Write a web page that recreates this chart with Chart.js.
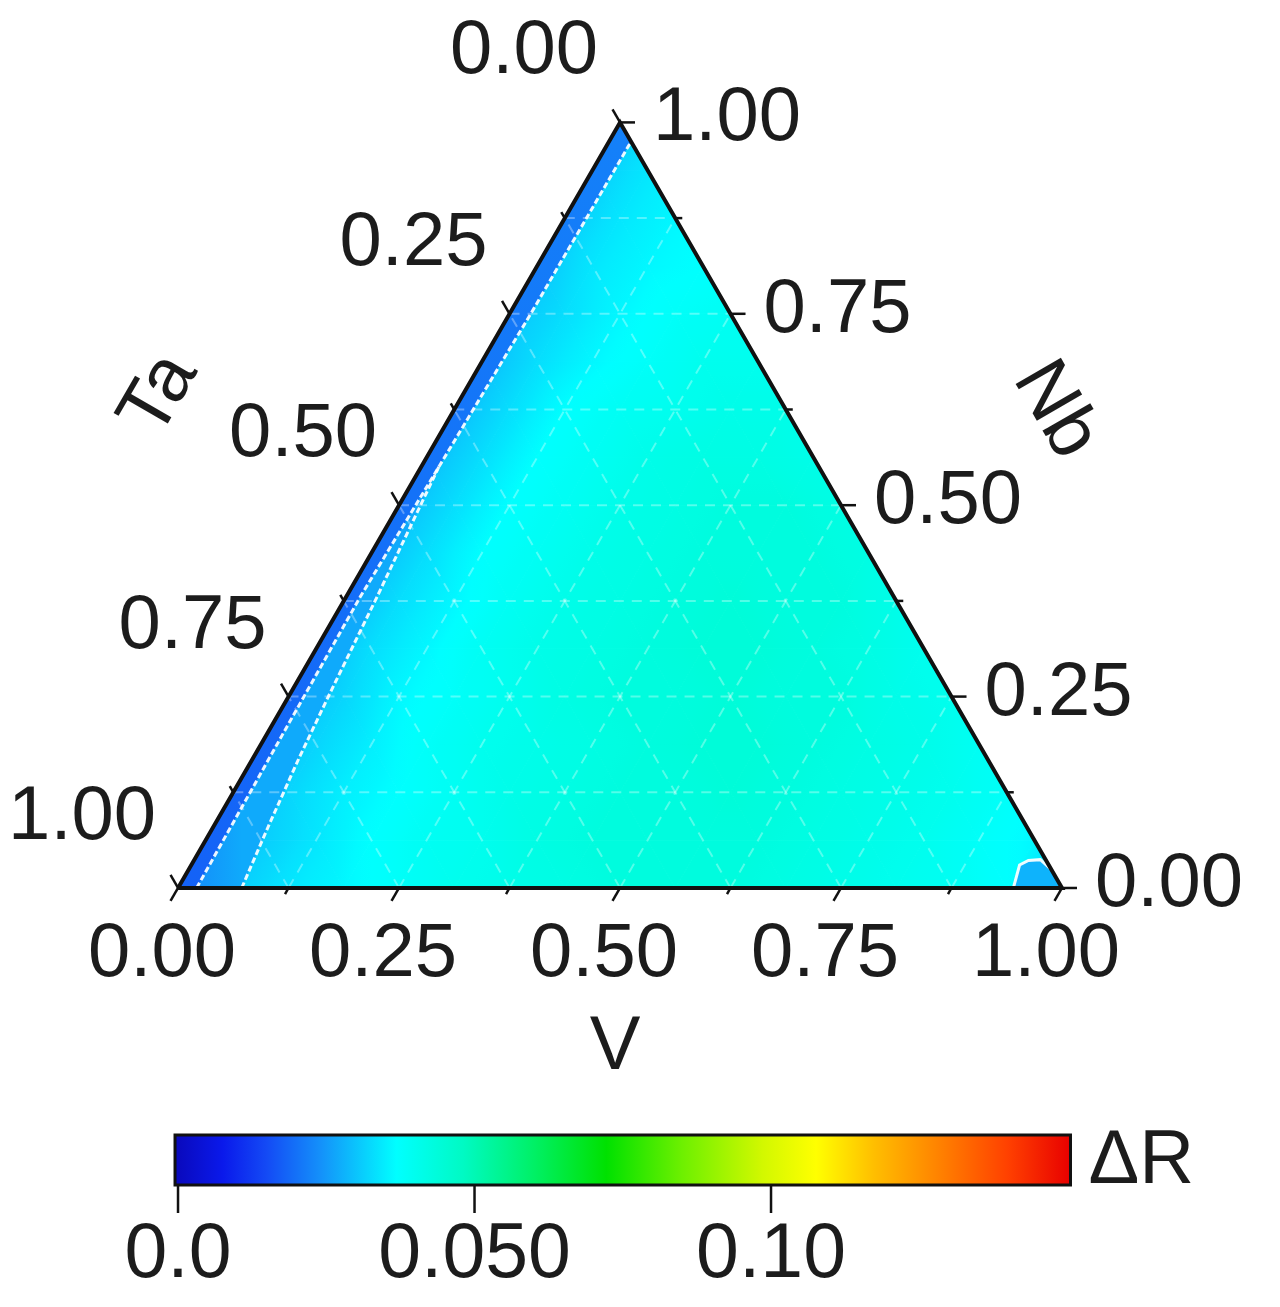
<!DOCTYPE html>
<html>
<head>
<meta charset="utf-8">
<script src="https://cdn.jsdelivr.net/npm/chart.js@4.4.1/dist/chart.umd.min.js"></script>
<style>
  html, body { margin: 0; padding: 0; background: #fff; }
  #wrap { width: 1280px; height: 1307px; position: relative; }
</style>
</head>
<body>
<div id="wrap"><canvas id="chart"></canvas></div>
<script>
// axis ticks (same for all three ternary axes)
const majorTicks = [0, 0.25, 0.5, 0.75, 1];
const minorTicks = [0.125, 0.375, 0.625, 0.875];
const tickLabels = ["0.00", "0.25", "0.50", "0.75", "1.00"];
const gridSteps = [0.125, 0.25, 0.375, 0.5, 0.625, 0.75, 0.875];

const bottomTitle = "V";
const leftTitle = "Ta";
const rightTitle = "Nb";

const colorbarTicks = [0, 0.05, 0.1];
const colorbarLabels = ["0.0", "0.050", "0.10"];
const colorbarTitle = "\u0394R";
const colorbarMax = 0.1505;

// ΔR read on a 1/16 ternary lattice: row i is Nb = i/16, entry j is V = j/16
const deltaR = [
  [0.029, 0.031, 0.034, 0.036, 0.038, 0.040, 0.041, 0.042, 0.043, 0.043, 0.043, 0.042, 0.041, 0.040, 0.039, 0.037, 0.031],
  [0.029, 0.031, 0.034, 0.037, 0.039, 0.040, 0.042, 0.043, 0.043, 0.043, 0.043, 0.042, 0.041, 0.040, 0.038, 0.036],
  [0.029, 0.032, 0.035, 0.037, 0.039, 0.041, 0.042, 0.043, 0.043, 0.044, 0.043, 0.042, 0.041, 0.040, 0.038],
  [0.029, 0.032, 0.035, 0.038, 0.040, 0.041, 0.042, 0.043, 0.044, 0.044, 0.043, 0.042, 0.041, 0.039],
  [0.029, 0.032, 0.036, 0.038, 0.040, 0.042, 0.043, 0.043, 0.044, 0.043, 0.043, 0.041, 0.040],
  [0.029, 0.033, 0.036, 0.039, 0.041, 0.042, 0.043, 0.044, 0.044, 0.043, 0.042, 0.040],
  [0.029, 0.033, 0.036, 0.039, 0.041, 0.042, 0.043, 0.044, 0.043, 0.043, 0.041],
  [0.029, 0.033, 0.037, 0.039, 0.041, 0.042, 0.043, 0.043, 0.043, 0.042],
  [0.029, 0.033, 0.037, 0.039, 0.041, 0.042, 0.043, 0.043, 0.042],
  [0.029, 0.033, 0.037, 0.039, 0.041, 0.042, 0.042, 0.041],
  [0.029, 0.033, 0.037, 0.039, 0.040, 0.041, 0.041],
  [0.029, 0.033, 0.036, 0.038, 0.040, 0.040],
  [0.030, 0.033, 0.036, 0.038, 0.039],
  [0.030, 0.034, 0.036, 0.037],
  [0.031, 0.034, 0.036],
  [0.031, 0.034],
  [0.031]
];

// contour lines, [V, Nb] pairs
const contourEdge = [[0.021, 0], [0.018, 0.2], [0.016, 0.38], [0.02, 0.55], [0.024, 0.75], [0.025, 0.975]];
const contourInner = [[0.072, 0], [0.062, 0.08], [0.052, 0.17], [0.045, 0.25], [0.035, 0.38], [0.027, 0.47], [0.02, 0.55]];
const contourCorner = [[0.945, 0], [0.937, 0.03], [0.944, 0.036], [0.957, 0.037], [0.976, 0.024]];

// ΔR levels of the bands between the contours
const edgeBandLevels = [0.018, 0.022]; // bottom, top
const innerBandLevel = 0.025;
const cornerLevel = 0.028;

// colour map of the bar (position 0..1, rgb)
const colorStops = [
  [0.0, [10, 10, 190]], [0.05, [10, 25, 235]], [0.1, [20, 75, 245]], [0.16, [20, 145, 250]],
  [0.245, [0, 255, 255]], [0.32, [0, 250, 195]], [0.4, [0, 240, 100]], [0.48, [0, 225, 0]],
  [0.565, [110, 240, 0]], [0.655, [210, 248, 0]], [0.715, [255, 255, 0]], [0.78, [255, 190, 0]],
  [0.855, [255, 128, 0]], [0.93, [255, 64, 0]], [1.0, [232, 0, 0]]
];

const SQ3 = Math.sqrt(3) / 2;
const FONT = '76px "Liberation Sans", Arial, sans-serif';
const TEXT = "#1c1c1c";

function tern(v, nb) {
  return { x: v + nb / 2, y: nb * SQ3 };
}

function colorAt(value) {
  const p = Math.min(1, Math.max(0, value / colorbarMax));
  for (let k = 1; k < colorStops.length; k++) {
    const [p1, c1] = colorStops[k];
    const [p0, c0] = colorStops[k - 1];
    if (p <= p1) {
      const t = (p - p0) / (p1 - p0);
      const c = c0.map((a, i) => Math.round(a + (c1[i] - a) * t));
      return `rgb(${c[0]},${c[1]},${c[2]})`;
    }
  }
  return "rgb(232,0,0)";
}

function polyPath(ctx, pts) {
  ctx.beginPath();
  pts.forEach((p, i) => (i ? ctx.lineTo(p[0], p[1]) : ctx.moveTo(p[0], p[1])));
  ctx.closePath();
}

// fill one lattice triangle, shading linearly between its three node values
function shadeCell(ctx, pts, vals) {
  const [p0, p1, p2] = pts;
  const ax = p1[0] - p0[0], ay = p1[1] - p0[1];
  const bx = p2[0] - p0[0], by = p2[1] - p0[1];
  const d1 = vals[1] - vals[0], d2 = vals[2] - vals[0];
  const det = ax * by - ay * bx;
  const gx = (d1 * by - d2 * ay) / det;
  const gy = (ax * d2 - bx * d1) / det;
  const g2 = gx * gx + gy * gy;
  let style;
  if (g2 < 1e-14) {
    style = colorAt(vals[0]);
  } else {
    const lo = Math.min(...vals), hi = Math.max(...vals);
    const sA = (lo - vals[0]) / g2, sB = (hi - vals[0]) / g2;
    style = ctx.createLinearGradient(p0[0] + gx * sA, p0[1] + gy * sA, p0[0] + gx * sB, p0[1] + gy * sB);
    for (let k = 0; k <= 4; k++) style.addColorStop(k / 4, colorAt(lo + (hi - lo) * k / 4));
  }
  ctx.fillStyle = style;
  ctx.strokeStyle = style;
  polyPath(ctx, pts);
  ctx.fill();
  ctx.stroke();
}

const ternaryPlugin = {
  id: "ternary",
  beforeDatasetsDraw(chart) {
    const { ctx } = chart;
    const { x, y } = chart.scales;
    const px = (v, nb) => {
      const p = tern(v, nb);
      return [x.getPixelForValue(p.x), y.getPixelForValue(p.y)];
    };
    const n = deltaR.length - 1;
    ctx.save();
    ctx.lineWidth = 1;
    for (let i = 0; i < n; i++) {
      for (let j = 0; j < n - i; j++) {
        shadeCell(ctx, [px(j / n, i / n), px((j + 1) / n, i / n), px(j / n, (i + 1) / n)],
          [deltaR[i][j], deltaR[i][j + 1], deltaR[i + 1][j]]);
        if (j < n - i - 1) {
          shadeCell(ctx, [px((j + 1) / n, i / n), px((j + 1) / n, (i + 1) / n), px(j / n, (i + 1) / n)],
            [deltaR[i][j + 1], deltaR[i + 1][j + 1], deltaR[i + 1][j]]);
        }
      }
    }

    // inner band between the two left contours
    const inner = contourInner.concat(contourEdge.filter((p) => p[1] < 0.55).reverse());
    const gi = ctx.createLinearGradient(px(0.072, 0)[0], 0, px(0.02, 0)[0], 0);
    gi.addColorStop(0, colorAt(innerBandLevel + 0.002));
    gi.addColorStop(1, colorAt(innerBandLevel - 0.001));
    ctx.fillStyle = gi;
    polyPath(ctx, inner.map((p) => px(p[0], p[1])));
    ctx.fill();

    // band along the V = 0 edge
    const edge = [[0, 0], [0, 1]].concat(contourEdge.slice().reverse());
    const g = ctx.createLinearGradient(0, px(0, 0)[1], 0, px(0, 1)[1]);
    g.addColorStop(0, colorAt(edgeBandLevels[0]));
    g.addColorStop(1, colorAt(edgeBandLevels[1]));
    ctx.fillStyle = g;
    polyPath(ctx, edge.map((p) => px(p[0], p[1])));
    ctx.fill();

    // small region at the V = 1 corner
    ctx.fillStyle = colorAt(cornerLevel);
    polyPath(ctx, contourCorner.concat([[1, 0]]).map((p) => px(p[0], p[1])));
    ctx.fill();

    // dashed grid
    ctx.strokeStyle = "rgba(255,255,255,0.32)";
    ctx.lineWidth = 2;
    ctx.setLineDash([10, 8]);
    gridSteps.forEach((t) => {
      [[px(0, t), px(1 - t, t)], [px(t, 0), px(t, 1 - t)], [px(1 - t, 0), px(0, 1 - t)]].forEach(([a, b]) => {
        ctx.beginPath();
        ctx.moveTo(a[0], a[1]);
        ctx.lineTo(b[0], b[1]);
        ctx.stroke();
      });
    });
    ctx.restore();
  },
  afterDatasetsDraw(chart) {
    const { ctx } = chart;
    const { x, y, cb } = chart.scales;
    const px = (v, nb) => {
      const p = tern(v, nb);
      return [x.getPixelForValue(p.x), y.getPixelForValue(p.y)];
    };
    ctx.save();
    ctx.strokeStyle = "#111";
    ctx.lineWidth = 2.5;
    const tick = (p, dx, dy, len) => {
      ctx.beginPath();
      ctx.moveTo(p[0], p[1]);
      ctx.lineTo(p[0] + dx * len, p[1] + dy * len);
      ctx.stroke();
    };
    // V ticks point down-left, Nb ticks point right, Ta ticks point up-left
    majorTicks.forEach((t) => {
      tick(px(t, 0), -0.5, SQ3, 15);
      tick(px(1 - t, t), 1, 0, 15);
      tick(px(0, 1 - t), -0.5, -SQ3, 15);
    });
    minorTicks.forEach((t) => {
      tick(px(t, 0), -0.5, SQ3, 7);
      tick(px(1 - t, t), 1, 0, 7);
      tick(px(0, 1 - t), -0.5, -SQ3, 7);
    });

    ctx.fillStyle = TEXT;
    ctx.font = FONT;
    ctx.textBaseline = "middle";
    majorTicks.forEach((t, k) => {
      const b = px(t, 0);
      ctx.textAlign = "center";
      ctx.fillText(tickLabels[k], b[0] - 16, b[1] + 67);
      const r = px(1 - t, t);
      ctx.textAlign = "left";
      ctx.fillText(tickLabels[k], r[0] + 33, r[1] - 3);
      const l = px(0, 1 - t);
      ctx.textAlign = "right";
      ctx.fillText(tickLabels[k], l[0] - 22, l[1] - 70);
    });

    // axis titles
    const mb = px(0.5, 0);
    ctx.textAlign = "center";
    ctx.fillText(bottomTitle, mb[0] - 5, mb[1] + 160);
    const ml = px(0, 0.5);
    ctx.save();
    ctx.translate(ml[0] - 239, ml[1] - 110);
    ctx.rotate(-Math.PI / 3);
    ctx.fillText(leftTitle, 0, 0);
    ctx.restore();
    const mr = px(0.5, 0.5);
    ctx.save();
    ctx.translate(mr[0] + 214, mr[1] - 95);
    ctx.rotate(Math.PI / 3);
    ctx.fillText(rightTitle, 0, 0);
    ctx.restore();

    // colour bar
    const top = 1135, bottom = 1185;
    const x0 = cb.getPixelForValue(0) - 3;
    const x1 = cb.getPixelForValue(colorbarMax);
    const grad = ctx.createLinearGradient(cb.getPixelForValue(0), 0, x1, 0);
    colorStops.forEach(([p, c]) => grad.addColorStop(p, `rgb(${c[0]},${c[1]},${c[2]})`));
    ctx.fillStyle = grad;
    ctx.fillRect(x0, top, x1 - x0, bottom - top);
    ctx.strokeStyle = "#111";
    ctx.lineWidth = 3;
    ctx.strokeRect(x0, top, x1 - x0, bottom - top);
    ctx.lineWidth = 2.5;
    ctx.fillStyle = TEXT;
    ctx.font = '77px "Liberation Sans", Arial, sans-serif';
    ctx.textAlign = "center";
    colorbarTicks.forEach((v, k) => {
      const cx = cb.getPixelForValue(v);
      ctx.beginPath();
      ctx.moveTo(cx, bottom);
      ctx.lineTo(cx, bottom + 28);
      ctx.stroke();
      ctx.fillText(colorbarLabels[k], cx, 1256);
    });
    ctx.font = FONT;
    ctx.textAlign = "left";
    ctx.fillText(colorbarTitle, x1 + 18, (top + bottom) / 2 + 2);
    ctx.restore();
  }
};

const toPoints = (list) => list.map((p) => tern(p[0], p[1]));

const contourStyle = {
  showLine: true,
  borderColor: "rgba(255,255,255,0.92)",
  borderWidth: 3,
  borderDash: [6, 3],
  pointRadius: 0,
  order: 1,
};

new Chart(document.getElementById("chart"), {
  type: "scatter",
  data: {
    datasets: [
      {
        data: toPoints([[0, 0], [1, 0], [0, 1], [0, 0]]),
        showLine: true,
        borderColor: "#111",
        borderWidth: 4,
        pointRadius: 0,
        order: 0,
      },
      { ...contourStyle, data: toPoints(contourEdge) },
      { ...contourStyle, data: toPoints(contourInner) },
      { ...contourStyle, data: toPoints(contourCorner), borderDash: [] },
    ],
  },
  options: {
    responsive: true,
    maintainAspectRatio: false,
    animation: false,
    events: [],
    layout: { padding: 0 },
    plugins: { legend: { display: false }, tooltip: { enabled: false } },
    scales: {
      x: { type: "linear", display: false, min: -0.2014, max: 1.2466 },
      y: { type: "linear", display: false, min: -0.474, max: 1.0045 },
      cb: { type: "linear", axis: "x", display: false, min: -0.03002, max: 0.18583 },
    },
  },
  plugins: [ternaryPlugin],
});
</script>
</body>
</html>
